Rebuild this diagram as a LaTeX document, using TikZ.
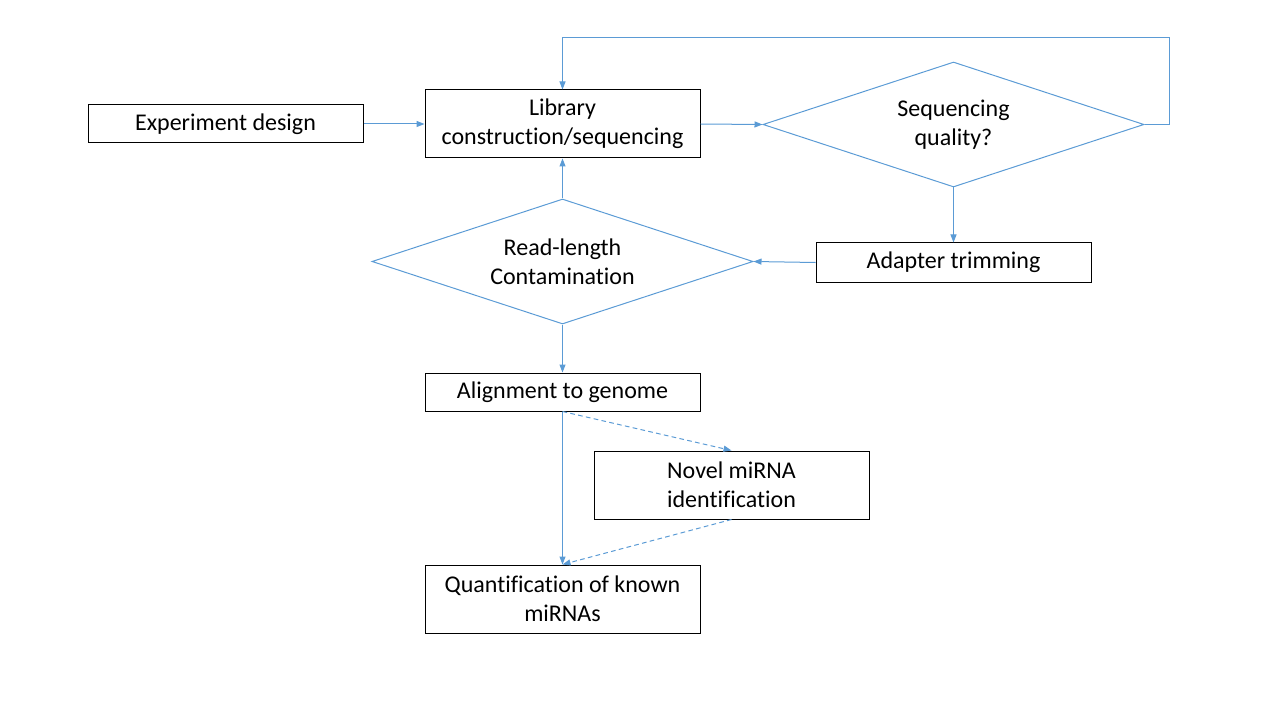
\documentclass[tikz,border=0pt]{standalone}
\usepackage{fontspec}
\setmainfont{Carlito}[Ligatures={NoCommon,NoRare,NoContextual}]
\usetikzlibrary{shapes.geometric,arrows.meta}
\definecolor{lineblue}{RGB}{91,155,213}
\tikzset{
  box/.style={draw=black, line width=0.75pt, fill=white, minimum width=206.25pt, align=center, inner sep=0pt, font=\fontsize{18}{22}\selectfont},
  dia/.style={draw=lineblue, line width=0.75pt, diamond, inner sep=0pt, minimum width=285.75pt, minimum height=93.75pt},
  lbl/.style={align=center, font=\fontsize{18}{22}\selectfont, inner sep=0pt},
  conn/.style={draw=lineblue, line width=0.75pt, -{Triangle[length=6pt,width=4.5pt]}},
  dconn/.style={conn, dash pattern=on 3.5pt off 2.5pt}
}
\begin{document}
\begin{tikzpicture}[x=0.75pt,y=-0.75pt]
\useasboundingbox (0,0) rectangle (1280,720);
\node[box, minimum height=28.5pt] (exp) at (225.5,124) {Experiment design};
\node[box, minimum height=51pt] (lib) at (562.5,124) {Library\\construction/sequencing};
\node[dia] (sq) at (953.5,124.5) {};
\node[lbl] (sqt) at (953.5,124.5) {Sequencing\\quality?};
\node[box, minimum height=29.25pt] (ad) at (953.5,262.5) {Adapter trimming};
\node[dia] (rl) at (562.5,261.5) {};
\node[lbl] (rlt) at (562.5,261.5) {Read-length\\Contamination};
\node[box, minimum height=28.5pt] (al) at (562.5,392) {Alignment to genome};
\node[box, minimum height=51pt] (nov) at (731.5,485) {Novel miRNA\\identification};
\node[box, minimum height=51pt] (qu) at (562.5,599) {Quantification of known\\miRNAs};
\coordinate (c1) at (1169,38);
\draw[conn] (exp.east) -- (lib.west);
\draw[conn] (lib.east) -- (sq.west);
\draw[conn] (sq.east) -| (c1) -| (lib.north);
\draw[conn] (sq.south) -- (ad.north);
\draw[conn] (ad.west) -- (rl.east);
\draw[conn] (rl.north) -- (lib.south);
\draw[conn] (rl.south) -- (al.north);
\draw[conn] (al.south) -- (qu.north);
\draw[dconn] (al.south) -- (nov.north);
\draw[dconn] (nov.south) -- (qu.north);
\end{tikzpicture}
\end{document}
